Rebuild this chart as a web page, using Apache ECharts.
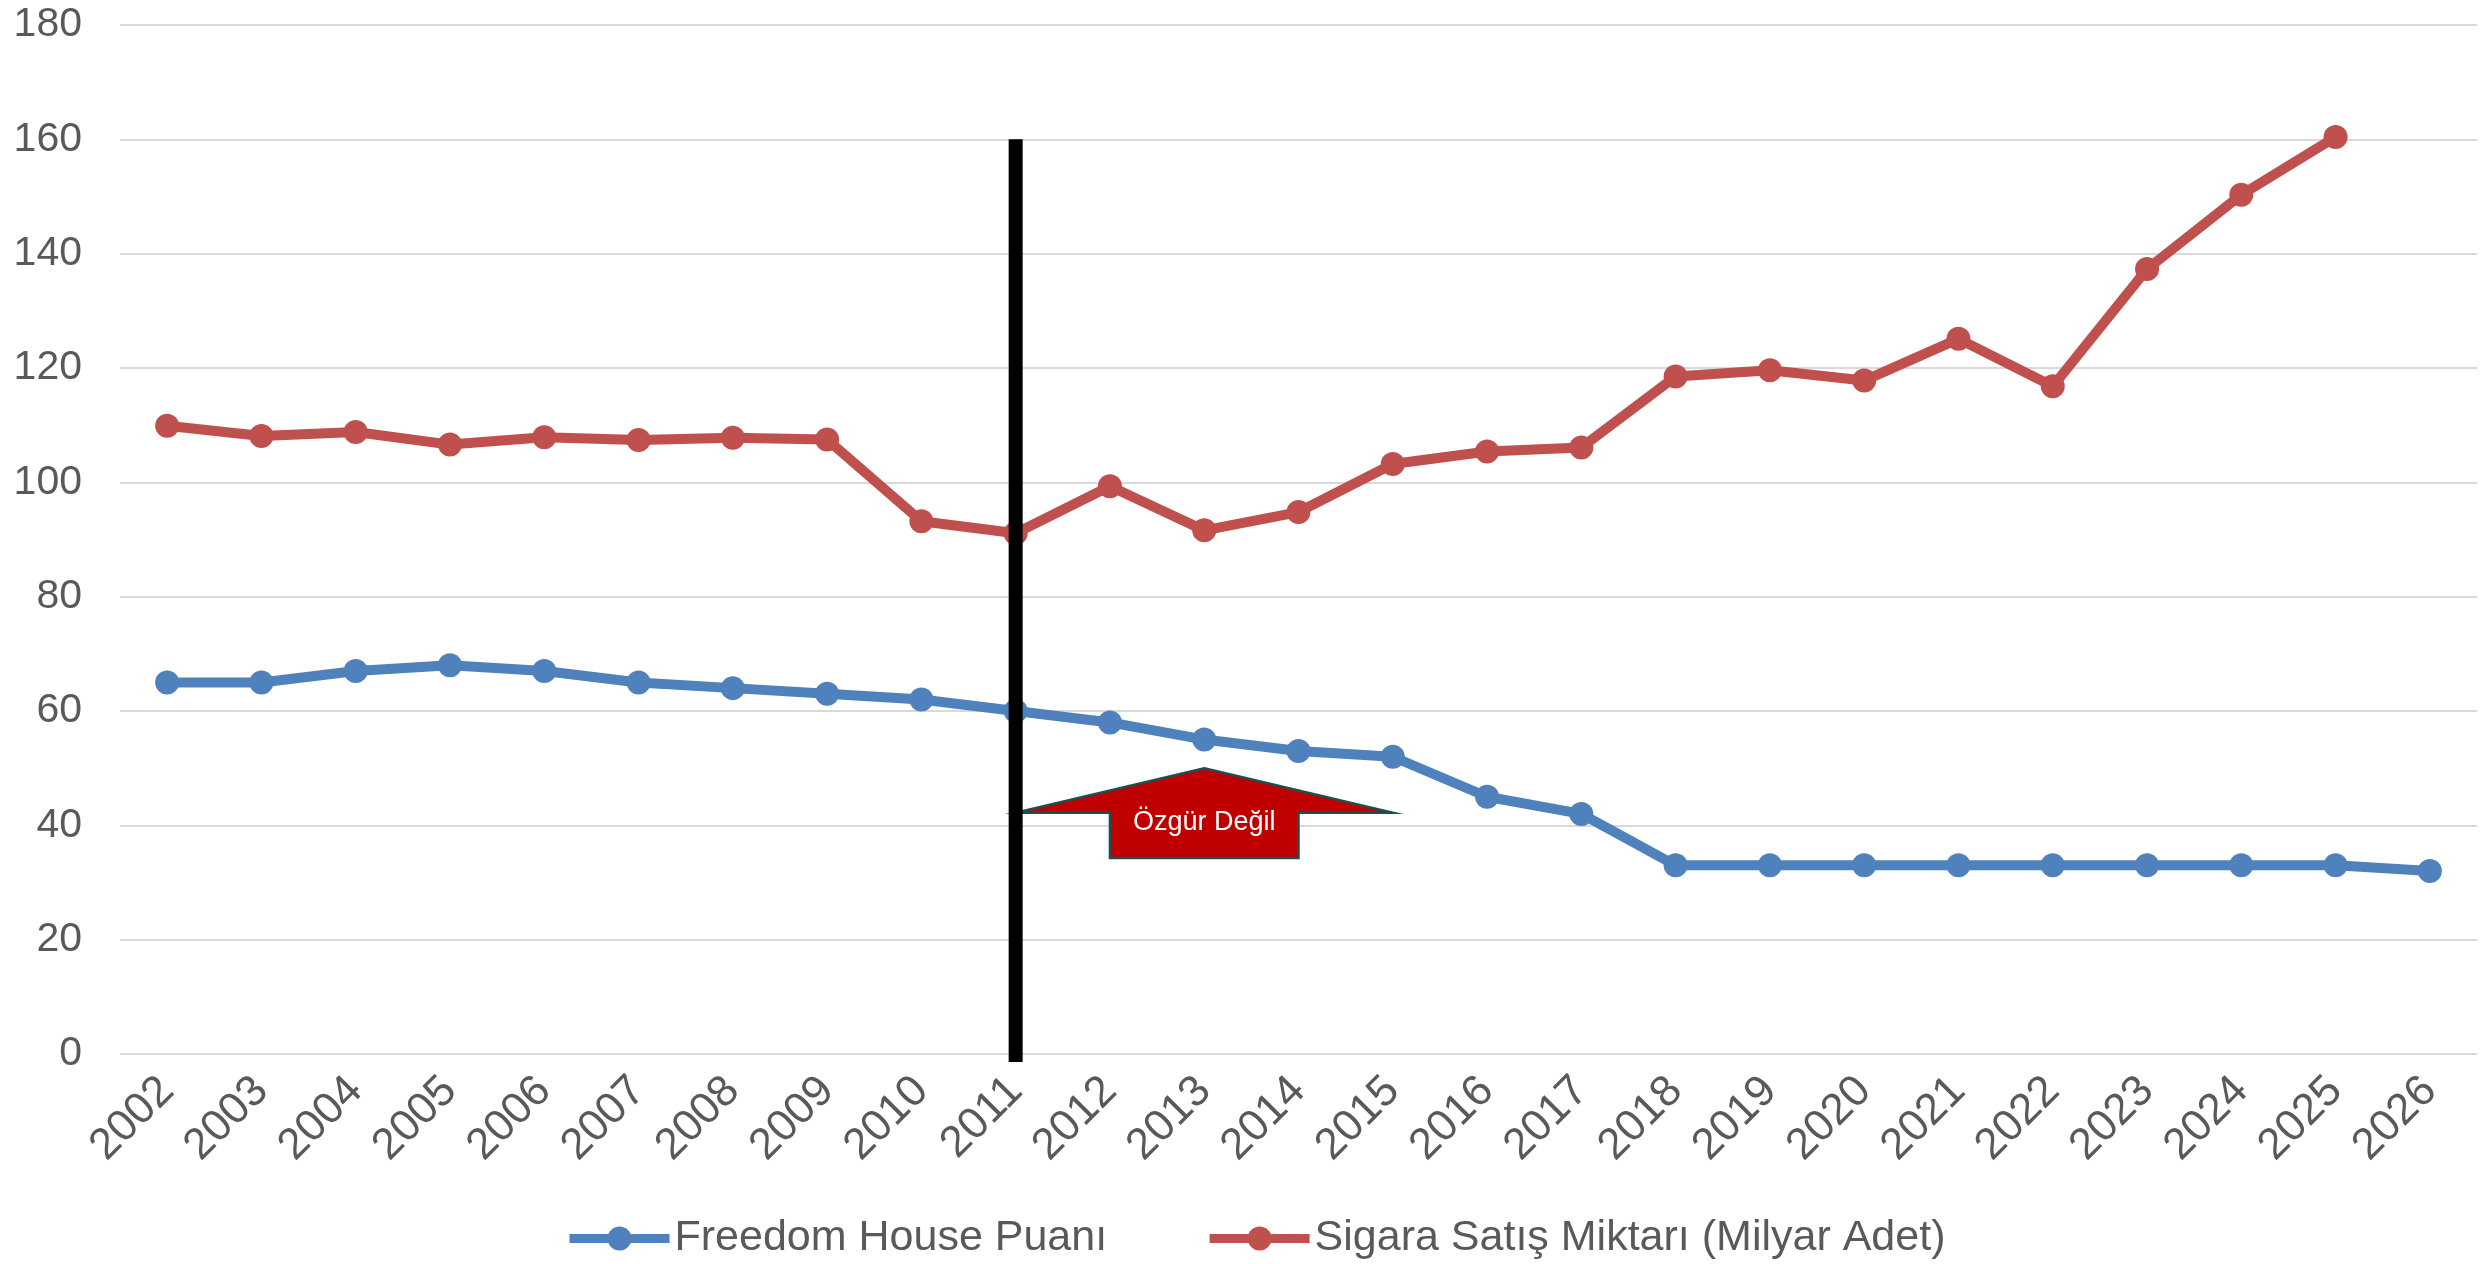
<!DOCTYPE html>
<html>
<head>
<meta charset="utf-8">
<script src="https://cdn.jsdelivr.net/npm/echarts@6/dist/echarts.min.js"></script>
<style>
  html, body { margin: 0; padding: 0; background: #ffffff; }
  #chart { width: 2484px; height: 1264px; }
</style>
</head>
<body>
<div id="chart"></div>
<script>
const years = ['2002','2003','2004','2005','2006','2007','2008','2009','2010','2011','2012','2013','2014','2015','2016','2017','2018','2019','2020','2021','2022','2023','2024','2025','2026'];
const freedomHouse = [65,65,67,68,67,65,64,63,62,60,58,55,53,52,45,42,33,33,33,33,33,33,33,33,32];
const cigaretteSales = [109.9,108.1,108.8,106.6,107.9,107.4,107.8,107.5,93.2,91.1,99.3,91.6,94.8,103.2,105.4,106.1,118.5,119.6,117.8,125.1,116.8,137.3,150.3,160.4,null];
const seriesNames = ['Freedom House Puanı', 'Sigara Satış Miktarı (Milyar Adet)'];

// annotation (divider year + "Özgür Değil" arrow), in data units
const dividerYear = '2011';
const dividerTop = 160;
const arrowText = 'Özgür Değil';
const arrowYear = '2013';
const arrowTip = 50, arrowWing = 42.2, arrowBottom = 34.3;
const arrowHalfWidth = 1.87, shaftHalfWidth = 0.91;

const chart = echarts.init(document.getElementById('chart'));
const textColor = '#595959';
const fontFamily = 'Liberation Sans, Arial, sans-serif';

function renderAnnotations(params, api) {
  const di = years.indexOf(dividerYear);
  const top = api.coord([di, dividerTop]);
  const base = api.coord([di, 0]);
  const ai = years.indexOf(arrowYear);
  const tip = api.coord([ai, arrowTip]);
  const wl = api.coord([ai - arrowHalfWidth, arrowWing]);
  const wr = api.coord([ai + arrowHalfWidth, arrowWing]);
  const sl = api.coord([ai - shaftHalfWidth, arrowWing]);
  const sr = api.coord([ai + shaftHalfWidth, arrowWing]);
  const bl = api.coord([ai - shaftHalfWidth, arrowBottom]);
  const br = api.coord([ai + shaftHalfWidth, arrowBottom]);
  return {
    type: 'group',
    children: [
      {
        type: 'polygon',
        shape: { points: [tip, wr, sr, br, bl, sl, wl] },
        style: { fill: '#C00000', stroke: '#1F4E4E', lineWidth: 2.5 }
      },
      {
        type: 'text',
        style: {
          text: arrowText,
          x: tip[0],
          y: (sl[1] + bl[1]) / 2 - 13,
          fill: '#ffffff',
          font: '27px ' + fontFamily,
          align: 'center',
          verticalAlign: 'middle'
        }
      },
      {
        type: 'rect',
        shape: { x: top[0] - 7, y: top[1], width: 14, height: base[1] - top[1] + 8 },
        style: { fill: '#000000' }
      }
    ]
  };
}

chart.setOption({
  animation: false,
  backgroundColor: '#ffffff',
  grid: { left: 120, right: 7, top: 25, bottom: 210 },
  legend: {
    data: seriesNames,
    left: 560,
    top: 1212,
    itemWidth: 100,
    itemHeight: 30,
    itemGap: 98,
    lineStyle: { width: 9 },
    textStyle: { fontSize: 43, color: textColor, fontFamily: fontFamily }
  },
  xAxis: {
    type: 'category',
    data: years,
    axisLine: { show: false },
    axisTick: { show: false },
    axisLabel: { rotate: 45, fontSize: 44, color: textColor, fontFamily: fontFamily, margin: 30, interval: 0 }
  },
  yAxis: {
    type: 'value',
    min: 0,
    max: 180,
    interval: 20,
    axisLine: { show: false },
    axisTick: { show: false },
    axisLabel: { fontSize: 41, color: textColor, fontFamily: fontFamily, margin: 38 },
    splitLine: { lineStyle: { color: '#D9D9D9', width: 2 } }
  },
  series: [
    {
      name: seriesNames[0],
      type: 'line',
      data: freedomHouse,
      symbol: 'circle',
      symbolSize: 24,
      lineStyle: { color: '#4F81BD', width: 10 },
      itemStyle: { color: '#4F81BD' },
      z: 2
    },
    {
      name: seriesNames[1],
      type: 'line',
      data: cigaretteSales,
      symbol: 'circle',
      symbolSize: 24,
      lineStyle: { color: '#C0504D', width: 10 },
      itemStyle: { color: '#C0504D' },
      z: 3
    },
    {
      type: 'custom',
      coordinateSystem: 'cartesian2d',
      data: [[0, 0]],
      renderItem: renderAnnotations,
      silent: true,
      clip: false,
      z: 10
    }
  ]
});
</script>
</body>
</html>
